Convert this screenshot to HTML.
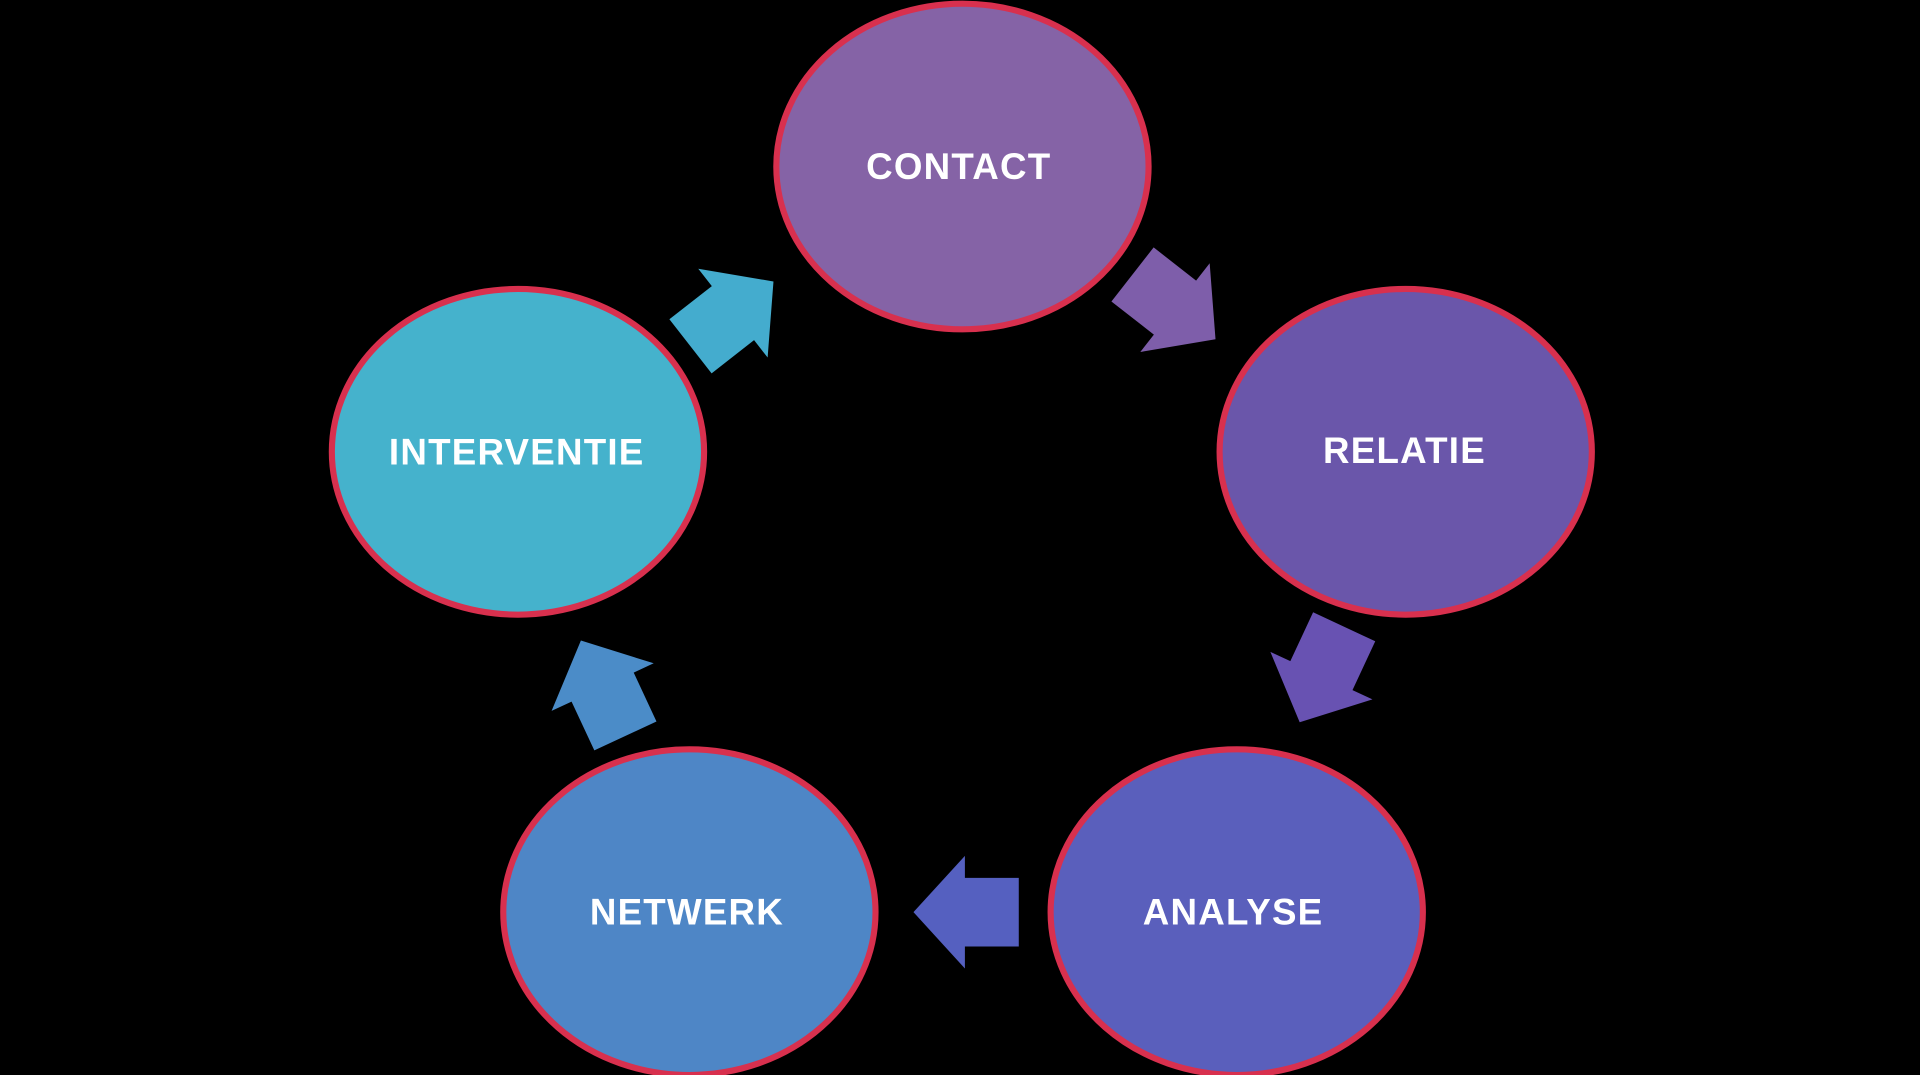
<!DOCTYPE html>
<html><head><meta charset="utf-8"><style>
html,body{margin:0;padding:0;background:#000;width:1920px;height:1075px;overflow:hidden}
svg{display:block}
text{font-family:"Liberation Sans",sans-serif;font-weight:bold;fill:#fff;font-size:30px;text-anchor:middle;dominant-baseline:central;letter-spacing:1px}
</style></head><body>
<svg width="1920" height="1075" viewBox="0 0 1568 878" preserveAspectRatio="none">
<defs>
<polygon id="arr" points="-42,-28 2,-28 2,-46 44,0 2,46 2,28 -42,28"/>
</defs>
<rect width="1568" height="878" fill="#000"/>
<g stroke="#d8304e" stroke-width="5">
<ellipse cx="786" cy="136" rx="152" ry="133" fill="#8563a6"/>
<ellipse cx="1148" cy="369" rx="152" ry="133" fill="#6a56aa"/>
<ellipse cx="423" cy="369" rx="152" ry="133" fill="#45b2cc"/>
<ellipse cx="563" cy="745" rx="152" ry="133" fill="#4e86c6"/>
<ellipse cx="1010" cy="745" rx="152" ry="133" fill="#5a5fbc"/>
</g>
<use href="#arr" fill="#7e5eaa" transform="translate(958,250) rotate(38)"/>
<use href="#arr" fill="#6852b2" transform="translate(1080,550) rotate(115)"/>
<use href="#arr" fill="#5560c0" transform="translate(790,745) rotate(180)"/>
<use href="#arr" fill="#4b8cc8" transform="translate(493,563) rotate(-115)"/>
<use href="#arr" fill="#44acce" transform="translate(597,257) rotate(-38)"/>
<text x="783" y="136">CONTACT</text>
<text x="1147" y="368">RELATIE</text>
<text x="422" y="369">INTERVENTIE</text>
<text x="561" y="745">NETWERK</text>
<text x="1007" y="745">ANALYSE</text>
</svg>
</body></html>
